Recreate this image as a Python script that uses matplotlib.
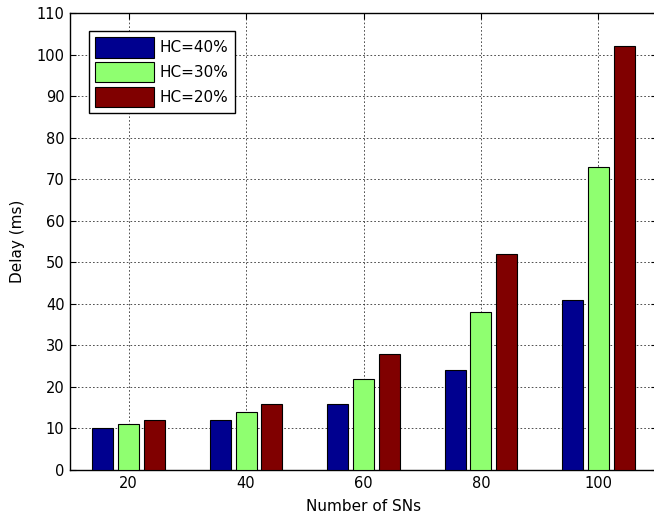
import matplotlib
matplotlib.use("Agg")
import matplotlib.pyplot as plt
import numpy as np

plt.rcParams['font.family'] = ['DejaVu Sans']

sns_counts = [20, 40, 60, 80, 100]
hc40 = [10, 12, 16, 24, 41]
hc30 = [11, 14, 22, 38, 73]
hc20 = [12, 16, 28, 52, 102]
labels = ['HC=40%', 'HC=30%', 'HC=20%']
colors = ['#00008F', '#8FFF70', '#800000']
yticks = list(range(0, 111, 10))

fig = plt.figure(figsize=(6.54, 5.16), dpi=100)
ax = fig.add_axes([70/654, 46/516, 587/654, 457/516])

x = np.array(sns_counts, dtype=float)
width = 3.6
offset = 4.4
for i, (vals, lab, col) in enumerate(zip([hc40, hc30, hc20], labels, colors)):
    ax.bar(x + (i - 1) * offset, vals, width=width, color=col, edgecolor='black',
           linewidth=0.8, label=lab, zorder=3)

ax.set_xlim(10, 110)
ax.set_ylim(0, 110)
ax.set_xticks(sns_counts)
ax.set_yticks(yticks)
ax.tick_params(direction='in', labelsize=10.5, length=4, width=0.8, top=True, right=True, pad=4)
ax.grid(True, linestyle=(0, (2, 2.5)), color='#333333', linewidth=0.6, zorder=0)
ax.set_axisbelow(True)
for s in ax.spines.values():
    s.set_linewidth(1.0)
ax.set_xlabel('Number of SNs', fontsize=11, labelpad=6)
ax.set_ylabel('Delay (ms)', fontsize=11, labelpad=8)

leg = ax.legend(loc='upper left', bbox_to_anchor=(0.032, 0.96), fontsize=11,
                handlelength=3.9, handleheight=1.65, handletextpad=0.35,
                labelspacing=0.3, borderpad=0.4, fancybox=False, framealpha=1,
                edgecolor='black', borderaxespad=0)
leg.get_frame().set_linewidth(1.0)

fig.savefig('out.png', dpi=100)
